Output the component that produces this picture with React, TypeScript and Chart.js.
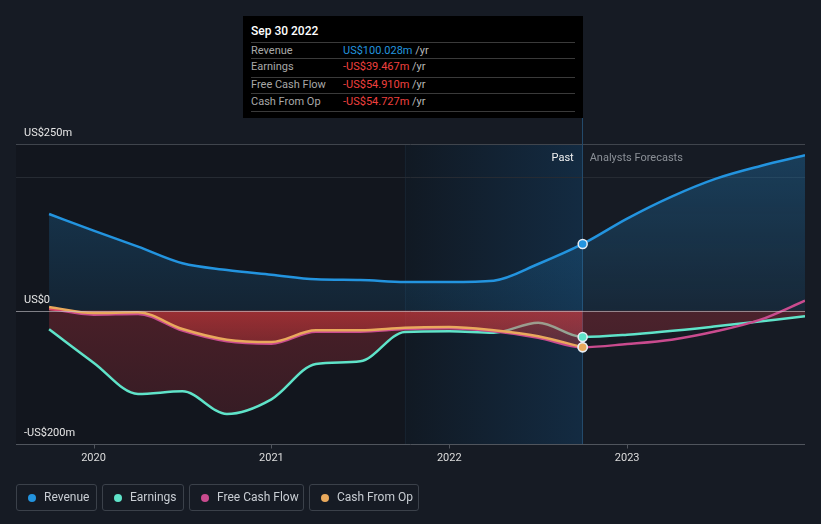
import { useEffect, useRef } from "react";
import { Chart, registerables } from "chart.js";

Chart.register(...registerables);

// ---------- data (US$ millions, x = fractional year) ----------
const pastDates = [2019.75, 2020.0, 2020.25, 2020.5, 2020.75, 2021.0, 2021.25, 2021.5, 2021.75, 2022.0, 2022.25, 2022.5, 2022.75];
const revenuePast = [145, 120, 96, 71, 61, 54, 47, 46, 43, 43, 45, 70, 100.028];
const earningsPast = [-28, -78, -125, -121, -155, -133, -80, -76, -32, -31, -33, -18, -39.467];
const fcfPast = [3, -6, -5, -30, -46, -49.5, -31.5, -31.5, -27.5, -26.5, -31, -40.5, -54.91];
const cfoPast = [5.5, -3.5, -2.5, -27.5, -43.5, -47, -29.5, -29.5, -25.5, -24.5, -29.5, -38.5, -54.727];

const revenueForecastDates = [2023.0, 2023.25, 2023.5, 2023.75, 2024.0];
const revenueForecast = [138, 171, 198, 217, 233];
const earningsForecastDates = [2023.0, 2023.5, 2024.0];
const earningsForecast = [-36, -23.5, -8.5];
const fcfForecastDates = [2023.0, 2023.25, 2023.5, 2023.75, 2024.0];
const fcfForecast = [-50, -43.5, -31, -13.5, 15];

const xTicks = [2020, 2021, 2022, 2023];
const yTickValues = [250, 0, -200];
const yTickLabels = ["US$250m", "US$0", "-US$200m"];
const gridValues = [250, 200];

const markerDate = 2022.75;
const pastBandStart = 2021.75;
const X_MIN = 2019.564;
const X_MAX = 2024.0;
const Y_MIN = -200;
const Y_MAX = 250;

const seriesNames = ["Revenue", "Earnings", "Free Cash Flow", "Cash From Op"];
const seriesColors = ["#2394df", "#5fe3c9", "#c94b8e", "#e9a95c"];
const tooltipTitle = "Sep 30 2022";
const tooltipValues = ["US$100.028m", "-US$39.467m", "-US$54.910m", "-US$54.727m"];

const FONT = "Roboto, 'Noto Sans', sans-serif";

function pts(dates: number[], vals: number[]) {
  return dates.map((d, i) => ({ x: d, y: vals[i] }));
}

function vGrad(chart: any, stops: [number, string][]) {
  const { ctx, chartArea, scales } = chart;
  if (!chartArea) return stops[0][1];
  const y = scales.y;
  const g = ctx.createLinearGradient(0, y.getPixelForValue(stops[0][0]), 0, y.getPixelForValue(stops[stops.length - 1][0]));
  const v0 = stops[0][0];
  const v1 = stops[stops.length - 1][0];
  stops.forEach(([v, c]) => g.addColorStop((v - v0) / (v1 - v0), c));
  return g;
}

const decoPlugin = {
  id: "deco",
  beforeDatasetsDraw(chart: any) {
    const { ctx, chartArea: a, scales } = chart;
    const x = scales.x;
    const y = scales.y;
    const xp = x.getPixelForValue(pastBandStart);
    const xm = x.getPixelForValue(markerDate);
    ctx.save();
    ctx.fillStyle = "#12161e";
    ctx.fillRect(a.left, a.top, xp - a.left, a.bottom - a.top);
    const g = ctx.createLinearGradient(xp, 0, xm, 0);
    g.addColorStop(0, "#111923");
    g.addColorStop(1, "#132b42");
    ctx.fillStyle = g;
    ctx.fillRect(xp, a.top, xm - xp, a.bottom - a.top);
    ctx.fillStyle = "#16222f";
    ctx.fillRect(Math.round(xp), a.top, 1, a.bottom - a.top);

    // grid lines
    gridValues.forEach((v, i) => {
      const py = Math.round(y.getPixelForValue(v)) + 0.5;
      ctx.strokeStyle = i === 0 ? "#40454d" : "#262b33";
      ctx.lineWidth = 1;
      ctx.beginPath();
      ctx.moveTo(a.left, py);
      ctx.lineTo(a.right, py);
      ctx.stroke();
    });
    // bottom axis
    const by = Math.round(a.bottom) + 0.5;
    ctx.strokeStyle = "#50555d";
    ctx.beginPath();
    ctx.moveTo(a.left, by);
    ctx.lineTo(a.right, by);
    ctx.stroke();
    xTicks.forEach((t) => {
      const px = Math.round(x.getPixelForValue(t)) + 0.5;
      ctx.beginPath();
      ctx.moveTo(px, by);
      ctx.lineTo(px, by + 4);
      ctx.stroke();
    });
    // vertical marker line
    ctx.fillStyle = "#234a6b";
    ctx.fillRect(Math.floor(xm), 118, 1, a.bottom - 118);
    ctx.restore();
  },
  afterDatasetsDraw(chart: any) {
    const { ctx, chartArea: a, scales } = chart;
    const x = scales.x;
    const y = scales.y;
    const xm = x.getPixelForValue(markerDate);
    ctx.save();
    // zero line
    const zy = Math.round(y.getPixelForValue(0)) + 0.5;
    ctx.strokeStyle = "rgba(200,200,205,0.6)";
    ctx.lineWidth = 1;
    ctx.beginPath();
    ctx.moveTo(a.left, zy);
    ctx.lineTo(a.right, zy);
    ctx.stroke();

    // markers
    [0, 1, 2, 3].forEach((di) => {
      const ds = chart.data.datasets[di];
      const idx = ds.data.findIndex((p: any) => p.x === markerDate);
      const el = chart.getDatasetMeta(di).data[idx];
      if (!el) return;
      ctx.beginPath();
      ctx.arc(el.x, el.y, 4.5, 0, Math.PI * 2);
      ctx.fillStyle = seriesColors[di];
      ctx.fill();
      ctx.lineWidth = 1.5;
      ctx.strokeStyle = "#e8eef5";
      ctx.stroke();
    });

    // texts
    ctx.font = `11px ${FONT}`;
    ctx.textBaseline = "alphabetic";
    ctx.fillStyle = "#e6e6e6";
    ctx.textAlign = "left";
    yTickValues.forEach((v, i) => {
      const py = y.getPixelForValue(v);
      ctx.fillText(yTickLabels[i], 24, py - 8);
    });
    ctx.textAlign = "center";
    ctx.fillStyle = "#dcdcdc";
    xTicks.forEach((t) => {
      ctx.fillText(String(t), x.getPixelForValue(t), 461);
    });
    ctx.textAlign = "right";
    ctx.fillStyle = "#f0f0f0";
    ctx.fillText("Past", xm - 9, 160.5);
    ctx.textAlign = "left";
    ctx.fillStyle = "#8b9097";
    ctx.fillText("Analysts Forecasts", xm + 7, 160.5);
    ctx.restore();
  },
};

export default function App() {
  const ref = useRef<HTMLCanvasElement | null>(null);

  useEffect(() => {
    if (!ref.current) return;
    const chart = new Chart(ref.current, {
      type: "line",
      data: {
        datasets: [
          {
            label: seriesNames[0],
            data: pts([...pastDates, ...revenueForecastDates], [...revenuePast, ...revenueForecast]),
            borderColor: seriesColors[0],
            borderWidth: 2.5,
            pointRadius: 0,
            fill: "origin",
            backgroundColor: (c: any) =>
              vGrad(c.chart, [
                [250, "rgba(35,148,223,0.30)"],
                [0, "rgba(35,148,223,0.11)"],
              ]),
            cubicInterpolationMode: "monotone",
            order: 5,
          },
          {
            label: seriesNames[1],
            data: pts([...pastDates, ...earningsForecastDates], [...earningsPast, ...earningsForecast]),
            borderColor: seriesColors[1],
            borderWidth: 2.5,
            pointRadius: 0,
            fill: "origin",
            backgroundColor: (c: any) =>
              vGrad(c.chart, [
                [0, "rgba(215,55,65,0.28)"],
                [-160, "rgba(215,55,65,0.18)"],
              ]),
            cubicInterpolationMode: "monotone",
            order: 4,
          },
          {
            label: seriesNames[2],
            data: pts([...pastDates, ...fcfForecastDates], [...fcfPast, ...fcfForecast]),
            borderColor: seriesColors[2],
            borderWidth: 2.5,
            pointRadius: 0,
            fill: false,
            cubicInterpolationMode: "monotone",
            order: 3,
          },
          {
            label: seriesNames[3],
            data: pts(pastDates, cfoPast),
            borderColor: seriesColors[3],
            borderWidth: 2.5,
            pointRadius: 0,
            fill: "origin",
            backgroundColor: (c: any) =>
              vGrad(c.chart, [
                [0, "rgba(235,62,62,0.50)"],
                [-55, "rgba(235,62,62,0.30)"],
              ]),
            cubicInterpolationMode: "monotone",
            order: 2,
          },
        ],
      },
      options: {
        animation: false,
        responsive: false,
        events: [],
        layout: { padding: { left: 16, right: 16, top: 144, bottom: 80 } },
        scales: {
          x: { type: "linear", min: X_MIN, max: X_MAX, display: false },
          y: { type: "linear", min: Y_MIN, max: Y_MAX, display: false },
        },
        plugins: {
          legend: { display: false },
          tooltip: { enabled: false },
        },
      } as any,
      plugins: [decoPlugin],
    });
    return () => chart.destroy();
  }, []);

  const legendBoxes = [
    { left: 16, width: 81 },
    { left: 102, width: 82 },
    { left: 189, width: 115 },
    { left: 309, width: 110 },
  ];
  // separator lines (relative to tooltip top)
  const sepTops = [26, 42, 60.5, 77, 94.5];

  return (
    <div
      style={{
        position: "fixed",
        left: 0,
        top: 0,
        width: 821,
        height: 524,
        background: "#161b24",
        fontFamily: FONT,
        overflow: "hidden",
      }}
    >
      <canvas ref={ref} width={821} height={524} style={{ position: "absolute", left: 0, top: 0, width: 821, height: 524 }} />

      {/* tooltip */}
      <div style={{ position: "absolute", left: 243, top: 16, width: 340, height: 102, background: "#000" }}>
        <div style={{ position: "absolute", left: 8, top: 8, fontSize: 12, fontWeight: 500, color: "#ffffff", lineHeight: "14px" }}>
          {tooltipTitle}
        </div>
        {sepTops.map((t, i) => (
          <div key={"s" + i} style={{ position: "absolute", left: 8, width: 324, top: t, height: 1, background: "#3a3a3a" }} />
        ))}
        {seriesNames.map((n, i) => (
          <div key={n}>
            <div
              style={{
                position: "absolute",
                left: 8,
                top: sepTops[i] + 0.5,
                height: 15,
                lineHeight: "15px",
                fontSize: 11,
                color: "#a8a8a8",
                whiteSpace: "nowrap",
              }}
            >
              {n}
            </div>
            <div
              style={{
                position: "absolute",
                left: 100,
                top: sepTops[i] + 0.5,
                height: 15,
                lineHeight: "15px",
                fontSize: 11,
                whiteSpace: "nowrap",
              }}
            >
              <span style={{ color: i === 0 ? "#2394df" : "#f0403f" }}>{tooltipValues[i]}</span>
              <span style={{ color: "#b8b8b8" }}> /yr</span>
            </div>
          </div>
        ))}
      </div>

      {/* legend */}
      {seriesNames.map((n, i) => (
        <div
          key={n}
          style={{
            position: "absolute",
            left: legendBoxes[i].left,
            top: 484,
            width: legendBoxes[i].width,
            height: 27,
            boxSizing: "border-box",
            border: "1px solid #3b414a",
            borderRadius: 3,
            display: "flex",
            alignItems: "center",
            paddingLeft: 11,
            fontSize: 12,
            color: "#c8cdd3",
            whiteSpace: "nowrap",
          }}
        >
          <span style={{ display: "inline-block", width: 8, height: 8, borderRadius: 4, background: seriesColors[i], marginRight: 8 }} />
          <span style={{ position: "relative", top: -1 }}>{n}</span>
        </div>
      ))}
    </div>
  );
}
